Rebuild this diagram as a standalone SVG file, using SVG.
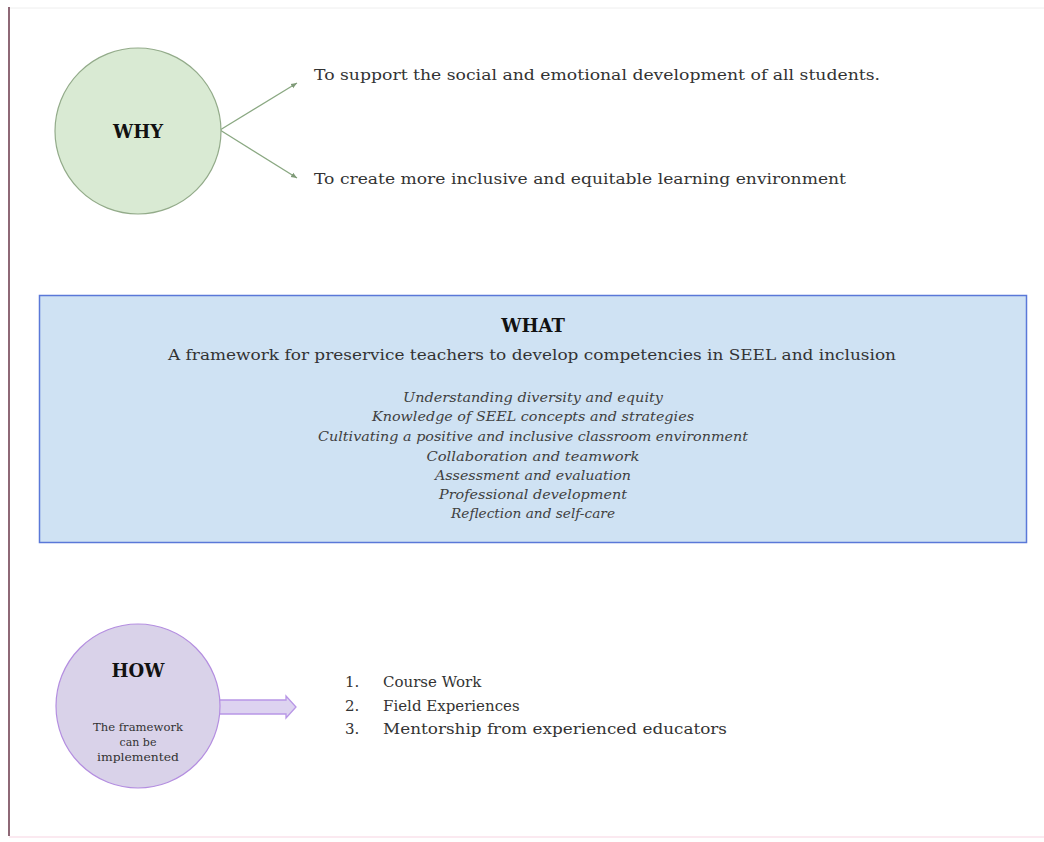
<svg xmlns="http://www.w3.org/2000/svg" width="1044" height="842" viewBox="0 0 1044 842">
  <defs>
    <style>
      .t { font-family: "DejaVu Serif", "Liberation Serif", serif; fill: #333333; }
      .b { font-weight: bold; fill: #111; }
      .it { font-style: italic; fill: #404040; }
      .conn { stroke: #8aa882; stroke-width: 1.3; fill: none; }
    </style>
    <marker id="ah" markerWidth="8" markerHeight="8" refX="6" refY="4" orient="auto" markerUnits="userSpaceOnUse">
      <path d="M0,1.5 L6,4 L0,6.5 Z" fill="#7f9a78"/>
    </marker>
  </defs>

  <!-- page frame -->
  <rect x="0" y="0" width="1044" height="842" fill="#ffffff"/>
  <line x1="9" y1="8" x2="1044" y2="8" stroke="#eeeeee" stroke-width="1"/>
  <line x1="9" y1="7" x2="9" y2="836" stroke="#8e6876" stroke-width="2"/>
  <line x1="9" y1="837" x2="1044" y2="837" stroke="#fbe9f0" stroke-width="2"/>

  <!-- connectors -->
  <g id="connectors">
    <line class="conn" x1="220" y1="130" x2="297" y2="83" marker-end="url(#ah)"/>
    <line class="conn" x1="220" y1="130" x2="297" y2="178" marker-end="url(#ah)"/>
    <path d="M218,700 L286,700 L286,696 L296,707 L286,718 L286,714 L218,714 Z" fill="#ddd3f0" stroke="#b896e6" stroke-width="1.3"/>
  </g>

  <!-- WHY -->
  <g id="why">
    <circle cx="138" cy="131" r="83" fill="#d9ead3" stroke="#93ab8a" stroke-width="1.2"/>
    <text class="t b" x="138" y="138" text-anchor="middle" font-size="18">WHY</text>
  </g>

  <g id="why-reason-1">
    <text class="t" x="314" y="80" font-size="15" textLength="566" lengthAdjust="spacingAndGlyphs">To support the social and emotional development of all students.</text>
  </g>
  <g id="why-reason-2">
    <text class="t" x="314" y="184" font-size="15" textLength="532" lengthAdjust="spacingAndGlyphs">To create more inclusive and equitable learning environment</text>
  </g>

  <!-- WHAT -->
  <g id="what">
    <rect x="39.5" y="295.5" width="987" height="247" fill="#cfe2f3" stroke="#5a78d8" stroke-width="1.5"/>
    <text class="t b" x="533" y="332" text-anchor="middle" font-size="18">WHAT</text>
    <text class="t" x="532" y="360" text-anchor="middle" font-size="15" textLength="728" lengthAdjust="spacingAndGlyphs">A framework for preservice teachers to develop competencies in SEEL and inclusion</text>
    <g class="t it" font-size="12.5" text-anchor="middle">
      <text x="533" y="402" textLength="260" lengthAdjust="spacingAndGlyphs">Understanding diversity and equity</text>
      <text x="533" y="421" textLength="322" lengthAdjust="spacingAndGlyphs">Knowledge of SEEL concepts and strategies</text>
      <text x="533" y="441" textLength="430" lengthAdjust="spacingAndGlyphs">Cultivating a positive and inclusive classroom environment</text>
      <text x="533" y="461" textLength="213" lengthAdjust="spacingAndGlyphs">Collaboration and teamwork</text>
      <text x="533" y="480" textLength="196" lengthAdjust="spacingAndGlyphs">Assessment and evaluation</text>
      <text x="533" y="499" textLength="188" lengthAdjust="spacingAndGlyphs">Professional development</text>
      <text x="533" y="518" textLength="164" lengthAdjust="spacingAndGlyphs">Reflection and self-care</text>
    </g>
  </g>

  <!-- HOW -->
  <g id="how">
    <circle cx="138" cy="706" r="82" fill="#d9d2e9" stroke="#b48ee0" stroke-width="1.2"/>
    <text class="t b" x="138" y="677" text-anchor="middle" font-size="18">HOW</text>
    <g class="t" font-size="11" text-anchor="middle" fill="#444">
      <text x="138" y="731" textLength="90" lengthAdjust="spacingAndGlyphs">The framework</text>
      <text x="138" y="746">can be</text>
      <text x="138" y="761" textLength="82" lengthAdjust="spacingAndGlyphs">implemented</text>
    </g>
  </g>

  <g id="how-list" class="t" font-size="15">
    <text x="345" y="687">1.</text>
    <text x="383" y="687">Course Work</text>
    <text x="345" y="711">2.</text>
    <text x="383" y="711">Field Experiences</text>
    <text x="345" y="734">3.</text>
    <text x="383" y="734" textLength="344" lengthAdjust="spacingAndGlyphs">Mentorship from experienced educators</text>
  </g>
</svg>
